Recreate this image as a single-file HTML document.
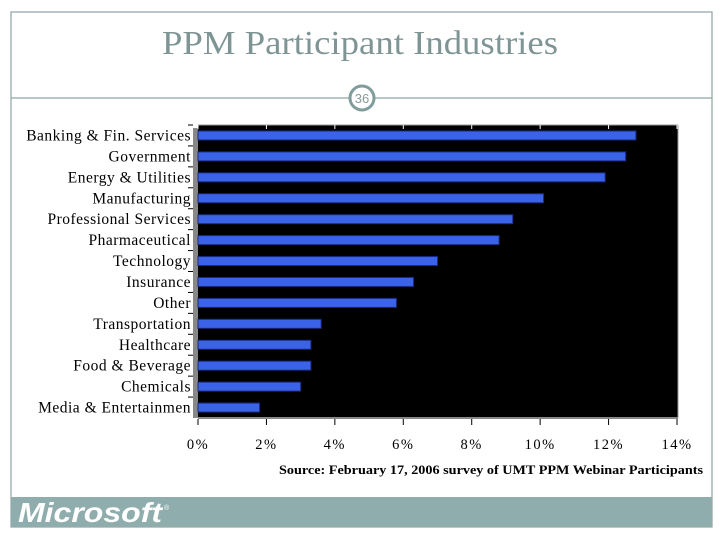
<!DOCTYPE html>
<html><head><meta charset="utf-8"><style>
body{margin:0;background:#fff;}
svg{display:block;font-family:"Liberation Serif",serif;}
</style></head><body>
<svg width="720" height="540" viewBox="0 0 720 540">
<rect x="11" y="12" width="701" height="515" fill="none" stroke="#8fa3a3" stroke-width="1.2"/>
<text x="360" y="54" text-anchor="middle" font-size="34" fill="#7f9595" textLength="396" lengthAdjust="spacingAndGlyphs">PPM Participant Industries</text>
<line x1="11" y1="98" x2="712" y2="98" stroke="#8fa3a3" stroke-width="1.2"/>
<circle cx="362" cy="98" r="12" fill="#fff" stroke="#809c9c" stroke-width="3"/>
<text x="362" y="103" text-anchor="middle" font-size="13" fill="#8a9a9a" font-family="Liberation Sans,sans-serif">36</text>
<rect x="198" y="125" width="480" height="293" fill="#000"/>
<rect x="193" y="128" width="5" height="290" fill="#888"/>
<line x1="198" y1="125" x2="678" y2="125" stroke="#999"/>
<line x1="678" y1="125" x2="678" y2="418" stroke="#999"/>
<line x1="198" y1="418" x2="678" y2="418" stroke="#888" stroke-width="2"/>
<g id="bars"></g>
<g id="ticks"></g>
<text x="703" y="474" text-anchor="end" font-size="12.5" font-weight="bold" fill="#000" textLength="424" lengthAdjust="spacingAndGlyphs">Source:  February 17, 2006 survey of UMT PPM Webinar Participants</text>
<rect x="11" y="497" width="701" height="30" fill="#8fadad"/>
<text x="18" y="522" font-size="28" font-weight="bold" font-style="italic" fill="#fff" font-family="Liberation Sans,sans-serif" textLength="144" lengthAdjust="spacingAndGlyphs">Microsoft</text>
<text x="164" y="510" font-size="7" fill="#fff" font-family="Liberation Sans,sans-serif">®</text>
</svg>
<script>
const categories=["Banking & Fin. Services","Government","Energy & Utilities","Manufacturing","Professional Services","Pharmaceutical","Technology","Insurance","Other","Transportation","Healthcare","Food & Beverage","Chemicals","Media & Entertainmen"];
const values=[12.8,12.5,11.9,10.1,9.2,8.8,7.0,6.3,5.8,3.6,3.3,3.3,3.0,1.8];
const tickValues=[0,2,4,6,8,10,12,14];
const tickLabels=["0%","2%","4%","6%","8%","10%","12%","14%"];
const NS="http://www.w3.org/2000/svg";
const x0=198,x1=677,xmax=14;
const xs=v=>x0+(x1-x0)*v/xmax;
const rowTop=125,rowH=293/categories.length;
const ys=i=>rowTop+rowH*i+rowH/2;
function mk(t,a){const e=document.createElementNS(NS,t);for(const k in a)e.setAttribute(k,a[k]);return e;}
const gb=document.getElementById('bars');
categories.forEach((c,i)=>{
  const y=ys(i);
  const b=mk('rect',{x:x0,y:y-4.5,width:xs(values[i])-x0,height:9,fill:'#3a63e8',stroke:'#1a2a80','stroke-width':1});
  
  
  gb.appendChild(b);
  const l=mk('text',{x:191,y:y+5,'text-anchor':'end','font-size':15.5,fill:'#000','letter-spacing':'0.5'});
  l.textContent=c;
  
  
  gb.appendChild(l);
  const t=mk('line',{x1:188,x2:193,y1:rowTop+rowH*i,y2:rowTop+rowH*i,stroke:'#000'});
  
  
  gb.appendChild(t);
});
const gt=document.getElementById('ticks');
tickValues.forEach((v,i)=>{
  const x=xs(v);
  const t=mk('line',{x1:x,x2:x,y1:125,y2:129,stroke:'#fff'});
  
  
  gt.appendChild(t);
  const tb=mk('line',{x1:x,x2:x,y1:419,y2:425,stroke:'#000'});
  
  
  gt.appendChild(tb);
  const l=mk('text',{x:x,y:449,'text-anchor':'middle','font-size':14.5,fill:'#000','letter-spacing':'1.5'});
  l.textContent=tickLabels[i];
  
  
  gt.appendChild(l);
});
</script>
</body></html>
